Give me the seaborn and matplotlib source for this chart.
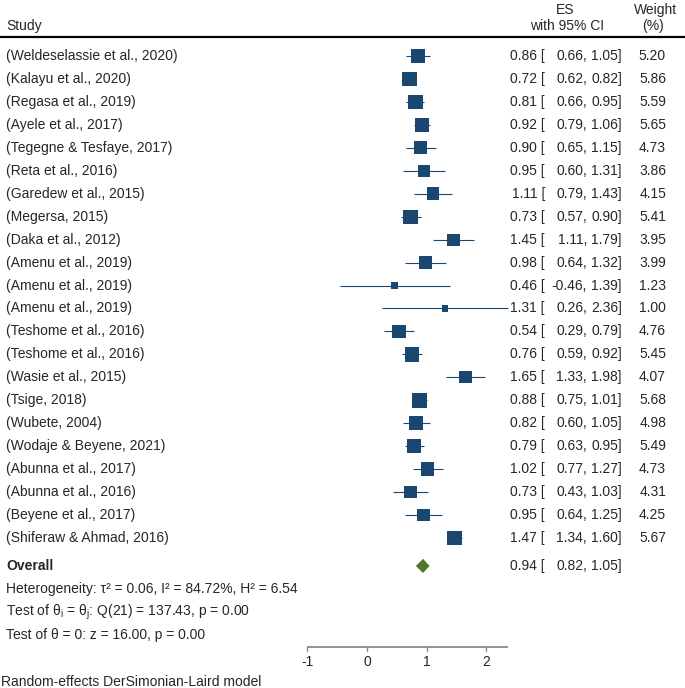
import numpy as np
import matplotlib
matplotlib.use("Agg")
import matplotlib.pyplot as plt
import matplotlib.transforms as mtransforms
import seaborn as sns
import pandas as pd

studies = ["(Weldeselassie et al., 2020)", "(Kalayu et al., 2020)", "(Regasa et al., 2019)",
           "(Ayele et al., 2017)", "(Tegegne & Tesfaye, 2017)", "(Reta et al., 2016)",
           "(Garedew et al., 2015)", "(Megersa, 2015)", "(Daka et al., 2012)",
           "(Amenu et al., 2019)", "(Amenu et al., 2019)", "(Amenu et al., 2019)",
           "(Teshome et al., 2016)", "(Teshome et al., 2016)", "(Wasie et al., 2015)",
           "(Tsige, 2018)", "(Wubete, 2004)", "(Wodaje & Beyene, 2021)",
           "(Abunna et al., 2017)", "(Abunna et al., 2016)", "(Beyene et al., 2017)",
           "(Shiferaw & Ahmad, 2016)"]
es = [0.86, 0.72, 0.81, 0.92, 0.90, 0.95, 1.11, 0.73, 1.45, 0.98, 0.46, 1.31,
      0.54, 0.76, 1.65, 0.88, 0.82, 0.79, 1.02, 0.73, 0.95, 1.47]
lower = [0.66, 0.62, 0.66, 0.79, 0.65, 0.60, 0.79, 0.57, 1.11, 0.64, -0.46, 0.26,
         0.29, 0.59, 1.33, 0.75, 0.60, 0.63, 0.77, 0.43, 0.64, 1.34]
upper = [1.05, 0.82, 0.95, 1.06, 1.15, 1.31, 1.43, 0.90, 1.79, 1.32, 1.39, 2.36,
         0.79, 0.92, 1.98, 1.01, 1.05, 0.95, 1.27, 1.03, 1.25, 1.60]
weight = [5.20, 5.86, 5.59, 5.65, 4.73, 3.86, 4.15, 5.41, 3.95, 3.99, 1.23, 1.00,
          4.76, 5.45, 4.07, 5.68, 4.98, 5.49, 4.73, 4.31, 4.25, 5.67]
overall_es, overall_lo, overall_hi = 0.94, 0.82, 1.05
xticks = [-1, 0, 1, 2]

df = pd.DataFrame({"study": studies, "es": es, "lo": lower, "hi": upper, "w": weight})
df["row"] = np.arange(len(df))

sns.set_theme(style="white")
plt.rcParams["font.family"] = ["Liberation Sans", "DejaVu Sans"]
plt.rcParams["mathtext.fontset"] = "custom"
plt.rcParams["mathtext.rm"] = "Liberation Sans"
plt.rcParams["mathtext.it"] = "Liberation Sans:italic"

navy = "#1a476f"
green = "#55752f"
W, H = 685, 688
fig = plt.figure(figsize=(W / 100, H / 100), dpi=100)
ax = fig.add_axes([0, 0, 1, 1])
ax.axis("off")

# map pixels -> data
x0px, xunit = 367, 59.6
y0px, yunit = 56, 22.95
ax.set_xlim(-x0px / xunit, (W - x0px) / xunit)
ax.set_ylim((H - y0px) / yunit, -y0px / yunit)

def row_of(ypx):
    return (ypx - y0px) / yunit

tr = mtransforms.blended_transform_factory(fig.transFigure, ax.transData)
fs = 10
xl = 6 / W

# CIs and squares
ax.hlines(df["row"], df["lo"], df["hi"], color=navy, lw=0.8, zorder=2)
k = 19.5
sns.scatterplot(data=df, x="es", y="row", size="w", sizes=(k * df["w"].min(), k * df["w"].max()),
                size_norm=(df["w"].min(), df["w"].max()), marker="s", color=navy,
                linewidth=0, legend=False, ax=ax, zorder=3)

n = len(df)
r_over = n - 1 + 1.22
dh = 0.31
ax.fill([overall_lo, overall_es, overall_hi, overall_es],
        [r_over, r_over - dh, r_over, r_over + dh], color=green, lw=0, zorder=3)

# text columns
for _, r in df.iterrows():
    ax.text(xl, r["row"], r["study"], transform=tr, ha="left", va="center", fontsize=fs)
    ax.text(545 / W, r["row"], f"{r['es']:.2f} [", transform=tr, ha="right", va="center", fontsize=fs)
    ax.text(587 / W, r["row"], f"{r['lo']:.2f},", transform=tr, ha="right", va="center", fontsize=fs)
    ax.text(622 / W, r["row"], f"{r['hi']:.2f}]", transform=tr, ha="right", va="center", fontsize=fs)
    ax.text(666 / W, r["row"], f"{r['w']:.2f}", transform=tr, ha="right", va="center", fontsize=fs)

ax.text(xl, r_over, "Overall", transform=tr, ha="left", va="center", fontsize=fs, fontweight="bold")
ax.text(545 / W, r_over, f"{overall_es:.2f} [", transform=tr, ha="right", va="center", fontsize=fs)
ax.text(587 / W, r_over, f"{overall_lo:.2f},", transform=tr, ha="right", va="center", fontsize=fs)
ax.text(622 / W, r_over, f"{overall_hi:.2f}]", transform=tr, ha="right", va="center", fontsize=fs)

ax.text(xl, row_of(589), "Heterogeneity: τ² = 0.06, I² = 84.72%, H² = 6.54",
        transform=tr, ha="left", va="center", fontsize=fs)
ax.text(xl, row_of(612), r"Test of θ$\mathregular{_i}$ = θ$\mathregular{_j}$: Q(21) = 137.43, p = 0.00",
        transform=tr, ha="left", va="center", fontsize=fs)
ax.text(xl, row_of(635), "Test of θ = 0: z = 16.00, p = 0.00",
        transform=tr, ha="left", va="center", fontsize=fs)
ax.text(1 / W, row_of(682), "Random-effects DerSimonian-Laird model",
        transform=tr, ha="left", va="center", fontsize=fs)

# header
ax.text(xl, row_of(26), "Study", transform=tr, ha="left", va="center", fontsize=fs)
ax.text(565 / W, row_of(10), "ES", transform=tr, ha="center", va="center", fontsize=fs)
ax.text(567 / W, row_of(26), "with 95% CI", transform=tr, ha="center", va="center", fontsize=fs)
ax.text(656 / W, row_of(10), "Weight", transform=tr, ha="center", va="center", fontsize=fs)
ax.text(653 / W, row_of(26), "(%)", transform=tr, ha="center", va="center", fontsize=fs)
ax.plot([0, 1], [row_of(36.5)] * 2, transform=tr, color="black", lw=1.6, solid_capstyle="butt")

# x axis
ax_row = row_of(646.5)
tick_len = 4 / yunit
ax.plot([min(xticks), max(upper)], [ax_row, ax_row], color="#8a8a8a", lw=1.3, solid_capstyle="butt")
for t in xticks:
    ax.plot([t, t], [ax_row, ax_row + tick_len], color="#8a8a8a", lw=1.0)
    ax.text(t, row_of(662), f"{t}", ha="center", va="center", fontsize=fs)

fig.savefig("out.png", dpi=100)
